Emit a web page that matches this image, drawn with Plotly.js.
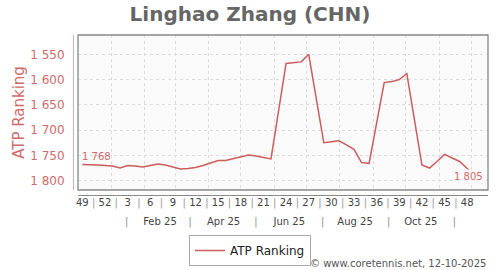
<!DOCTYPE html>
<html>
<head>
<meta charset="utf-8">
<script src="https://cdn.plot.ly/plotly-3.0.1.min.js"></script>
<style>html,body{margin:0;padding:0;background:#fff;}#chart{width:500px;height:270px;}</style>
</head>
<body>
<div id="chart"></div>
<script>
// ---- data ----
const weekDates = [
  '2024-12-05','2024-12-12','2024-12-19','2024-12-26',
  '2025-01-02','2025-01-09','2025-01-16','2025-01-23','2025-01-30',
  '2025-02-06','2025-02-13','2025-02-20','2025-02-27',
  '2025-03-06','2025-03-13','2025-03-20','2025-03-27',
  '2025-04-03','2025-04-10','2025-04-17','2025-04-24',
  '2025-05-01','2025-05-08','2025-05-15','2025-05-22','2025-05-29',
  '2025-06-05','2025-06-12','2025-06-19','2025-06-26',
  '2025-07-03','2025-07-10','2025-07-17','2025-07-24','2025-07-31',
  '2025-08-07','2025-08-14','2025-08-21','2025-08-28',
  '2025-09-04','2025-09-11','2025-09-18','2025-09-25',
  '2025-10-02','2025-10-09','2025-10-16','2025-10-23','2025-10-30',
  '2025-11-06','2025-11-13','2025-11-20','2025-11-27',
  '2025-12-04','2025-12-11'
];
const atpRanking = [
  1768,1768,1769,1770,
  1771,1775,1770,1771,1773,
  1770,1767,1769,1773,
  1777,1776,1774,1770,
  1765,1760,1760,1756,
  1752,1749,1751,1754,1757,
  null,1568,1567,1565,
  1550,null,1725,1723,1721,
  1729,1738,1764,1766,
  null,1606,1604,1600,
  1588,null,1769,1775,1762,
  1748,1755,1762,1776,
  null,1805
];
const weekTickDates = ['2024-12-05','2024-12-26','2025-01-16','2025-02-06','2025-02-27','2025-03-20',
  '2025-04-10','2025-05-01','2025-05-22','2025-06-12','2025-07-03','2025-07-24',
  '2025-08-14','2025-09-04','2025-09-25','2025-10-16','2025-11-06','2025-11-27'];
const weekTickLabels = ['49','52','3','6','9','12','15','18','21','24','27','30','33','36','39','42','45','48'];
const monthTickDates = ['2025-02-15','2025-04-15','2025-06-15','2025-08-15','2025-10-15'];
const monthTickLabels = ['Feb 25','Apr 25','Jun 25','Aug 25','Oct 25'];
const monthSepDates = ['2025-01-15','2025-03-15','2025-05-15','2025-07-16','2025-09-15','2025-11-15'];
const yTickVals = [1550,1600,1650,1700,1750,1800];
const seriesName = 'ATP Ranking';
const chartTitle = 'Linghao Zhang (CHN)';
const footerText = '© www.coretennis.net, 12-10-2025';

// ---- helpers ----
function fmt(v){ return String(v).replace(/\B(?=(\d{3})+(?!\d))/g, ' '); }
function toStr(ms){ return new Date(ms).toISOString().slice(0,19).replace('T',' '); }
const weekSepDates = [];
for (let i = 0; i < weekTickDates.length - 1; i++) {
  const a = Date.parse(weekTickDates[i]), b = Date.parse(weekTickDates[i+1]);
  weekSepDates.push(toStr((a + b) / 2));
}

const FONT = 'DejaVu Sans';
const RED = '#cd5c5c';
const RED_TXT = '#cf6a6a';
const xRange = ['2024-12-01 00:00', '2025-12-16 07:00'];
const xDom = [5/415, 1];
const firstIdx = 0, lastIdx = atpRanking.length - 1;

const dummy = (ax) => ({x: weekDates, y: atpRanking, xaxis: ax, yaxis: 'y', mode: 'lines',
  line: {width: 0, color: 'rgba(0,0,0,0)'}, opacity: 0, hoverinfo: 'skip', showlegend: false, connectgaps: true});

const traces = [
  {x: weekDates, y: atpRanking, type: 'scatter', mode: 'lines', name: seriesName,
   line: {color: RED, width: 1.5}, connectgaps: true},
  dummy('x2'), dummy('x3'), dummy('x4'), dummy('x5')
];

const overlayAx = (extra) => Object.assign({
  overlaying: 'x', anchor: 'free', position: 0, type: 'date', range: xRange, domain: xDom,
  showgrid: false, zeroline: false, showline: false, ticks: '', tickangle: 0, tickmode: 'array',
  tickfont: {family: FONT, size: 10, color: '#444'}
}, extra);

const layout = {
  width: 500, height: 270,
  margin: {l: 73, r: 12, t: 35, b: 75, pad: 0},
  paper_bgcolor: '#ffffff', plot_bgcolor: '#fafafa',
  separators: '. ',
  font: {family: FONT, size: 10, color: '#444'},
  title: {text: chartTitle, x: 0.5, xref: 'container', xanchor: 'center',
          y: 1 - 14/270, yref: 'container', yanchor: 'middle',
          font: {family: FONT, size: 20, weight: 'bold', color: '#666'}},
  showlegend: true,
  legend: {orientation: 'h', xref: 'container', yref: 'container', x: 0.5, xanchor: 'center',
           y: 1 - 235/270, yanchor: 'top', bordercolor: '#aaa', borderwidth: 1, bgcolor: '#fff',
           font: {family: FONT, size: 12, color: '#222'}},
  xaxis: {type: 'date', range: xRange, domain: xDom, anchor: 'free', position: 0,
          showline: true, linecolor: '#888', linewidth: 1.3,
          showticklabels: false, ticks: '', tickmode: 'linear', tick0: '2025-01-01', dtick: 'M1',
          showgrid: true, gridcolor: '#dcdcdc', griddash: '3px,3px', gridwidth: 1, zeroline: false},
  xaxis2: overlayAx({tickvals: weekTickDates, ticktext: weekTickLabels}),
  xaxis3: overlayAx({tickvals: weekSepDates, ticktext: weekSepDates.map(() => '|'),
                     tickfont: {family: FONT, size: 10, color: '#999'}}),
  xaxis4: overlayAx({tickvals: monthTickDates, ticktext: monthTickLabels,
                     ticks: 'outside', ticklen: 17, tickcolor: 'rgba(0,0,0,0)'}),
  xaxis5: overlayAx({tickvals: monthSepDates, ticktext: monthSepDates.map(() => '|'),
                     ticks: 'outside', ticklen: 16, tickcolor: 'rgba(0,0,0,0)',
                     tickfont: {family: FONT, size: 11, color: '#999'}}),
  yaxis: {domain: [5/160, 1], anchor: 'free', position: 0, range: [1818.4, 1511.8],
          tickmode: 'array', tickvals: yTickVals, tickformat: ',d',
          showline: true, linecolor: '#e4a9a9', linewidth: 1,
          ticks: 'outside', ticklen: 6, tickcolor: 'rgba(0,0,0,0)',
          tickfont: {family: FONT, size: 12, color: RED_TXT},
          showgrid: true, gridcolor: '#dcdcdc', griddash: '3px,3px', gridwidth: 1, zeroline: false,
          title: {text: seriesName, standoff: 0, font: {family: FONT, size: 15, color: RED_TXT}}},
  shapes: [{type: 'rect', xref: 'x domain', yref: 'y domain', x0: 0, x1: 1, y0: 0, y1: 1,
            line: {color: '#888', width: 1.3}, fillcolor: 'rgba(0,0,0,0)', layer: 'above'}],
  annotations: [
    {x: weekDates[firstIdx], y: atpRanking[firstIdx], xref: 'x', yref: 'y', text: fmt(atpRanking[firstIdx]),
     showarrow: false, xanchor: 'left', yanchor: 'middle', xshift: -2, yshift: 8,
     font: {family: FONT, size: 10, color: RED_TXT}},
    {x: weekDates[lastIdx], y: atpRanking[lastIdx], xref: 'x', yref: 'y', text: fmt(atpRanking[lastIdx]),
     showarrow: false, xanchor: 'right', yanchor: 'middle', xshift: 3, yshift: 7,
     bgcolor: '#fafafa', font: {family: FONT, size: 10, color: RED_TXT}},
    {x: 1, y: -(263-195)/160, xref: 'paper', yref: 'paper', text: footerText, showarrow: false,
     xanchor: 'right', yanchor: 'middle', font: {family: FONT, size: 10, color: '#555'}}
  ]
};

Plotly.newPlot('chart', traces, layout, {displayModeBar: false, staticPlot: true});
</script>
</body>
</html>
